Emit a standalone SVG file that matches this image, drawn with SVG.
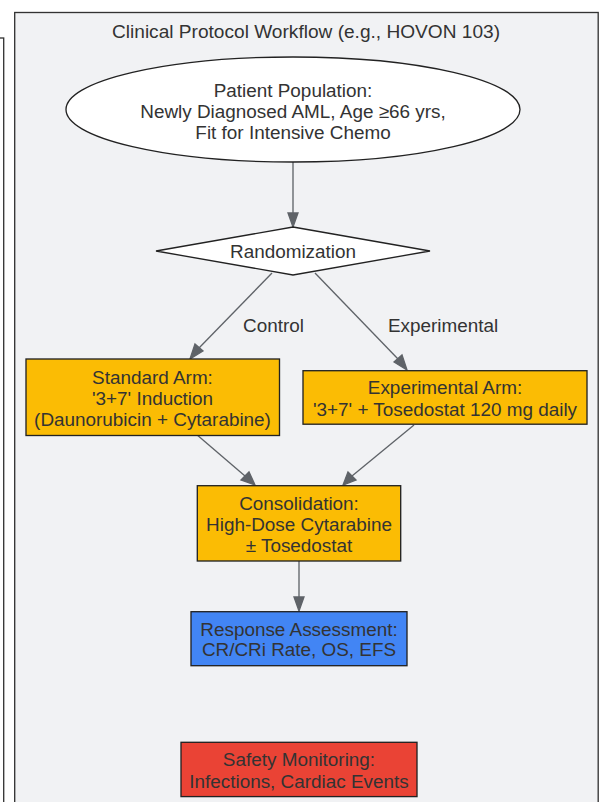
<svg xmlns="http://www.w3.org/2000/svg" width="604" height="802" viewBox="0 0 604 802">
<style>
text{font-family:"Liberation Sans",Arial,sans-serif;font-size:18.9px;fill:#333;text-anchor:middle}
.n{stroke:#222;stroke-width:1.33}
.e{stroke:#5f6368;stroke-width:1.33;fill:none}
.ah{fill:#5f6368;stroke:#5f6368;stroke-width:1.33}
</style>
<rect width="604" height="802" fill="#ffffff"/>
<g id="left-cluster">
<rect x="-20" y="38" width="23.7" height="800" fill="#ffffff" stroke="#333" stroke-width="1.33"/>
</g>
<g id="cluster-workflow">
<rect x="14.7" y="12.5" width="583.5" height="820" fill="#f1f2f4" stroke="#333" stroke-width="1.33"/>
<text x="306" y="38" style="font-size:19.1px">Clinical Protocol Workflow (e.g., HOVON 103)</text>
</g>
<g id="connectors">
<line class="e" x1="293" y1="162" x2="293" y2="213"/>
<polygon class="ah" points="288,213 298,213 293,227"/>
<line class="e" x1="272" y1="273" x2="199" y2="348"/>
<polygon class="ah" points="195,344 203,351 190,359"/>
<text x="273.5" y="332">Control</text>
<line class="e" x1="315" y1="273" x2="398" y2="359"/>
<polygon class="ah" points="394,362 402,355 407,370"/>
<text x="443" y="332">Experimental</text>
<line class="e" x1="196" y1="434" x2="245" y2="476"/>
<polygon class="ah" points="241,480 249,472 255,485"/>
<line class="e" x1="414" y1="425" x2="352" y2="476"/>
<polygon class="ah" points="348,472 356,480 343,485"/>
<line class="e" x1="299" y1="561" x2="299" y2="597"/>
<polygon class="ah" points="294,597 304,597 299,611"/>
</g>
<g id="patient-population">
<ellipse class="n" cx="293" cy="109.5" rx="227" ry="52.5" fill="#ffffff"/>
<text x="293" y="96.7">Patient Population:</text>
<text x="293" y="117.7">Newly Diagnosed AML, Age ≥66 yrs,</text>
<text x="293" y="138.5">Fit for Intensive Chemo</text>
</g>
<g id="randomization">
<polygon class="n" points="293,227 430,251 293,275 156,251" fill="#ffffff"/>
<text x="293" y="258">Randomization</text>
</g>
<g id="standard-arm">
<rect class="n" x="26" y="359" width="253.5" height="76.5" fill="#fbbc04"/>
<text x="152.5" y="384.3">Standard Arm:</text>
<text x="152.5" y="405.2">'3+7' Induction</text>
<text x="152.5" y="426.2">(Daunorubicin + Cytarabine)</text>
</g>
<g id="experimental-arm">
<rect class="n" x="303" y="370.7" width="284" height="53.5" fill="#fbbc04"/>
<text x="445" y="394.2">Experimental Arm:</text>
<text x="445" y="415.8">'3+7' + Tosedostat 120 mg daily</text>
</g>
<g id="consolidation">
<rect class="n" x="197.3" y="485.7" width="203.4" height="75.3" fill="#fbbc04"/>
<text x="299" y="510">Consolidation:</text>
<text x="299" y="530.8">High-Dose Cytarabine</text>
<text x="299" y="551.7">± Tosedostat</text>
</g>
<g id="response-assessment">
<rect class="n" x="191" y="611.7" width="216" height="54" fill="#4285f4"/>
<text x="299" y="635.7">Response Assessment:</text>
<text x="299" y="656.3">CR/CRi Rate, OS, EFS</text>
</g>
<g id="safety-monitoring">
<rect class="n" x="181" y="742.3" width="236" height="54.3" fill="#ea4335"/>
<text x="299" y="766">Safety Monitoring:</text>
<text x="299" y="788">Infections, Cardiac Events</text>
</g>
</svg>
